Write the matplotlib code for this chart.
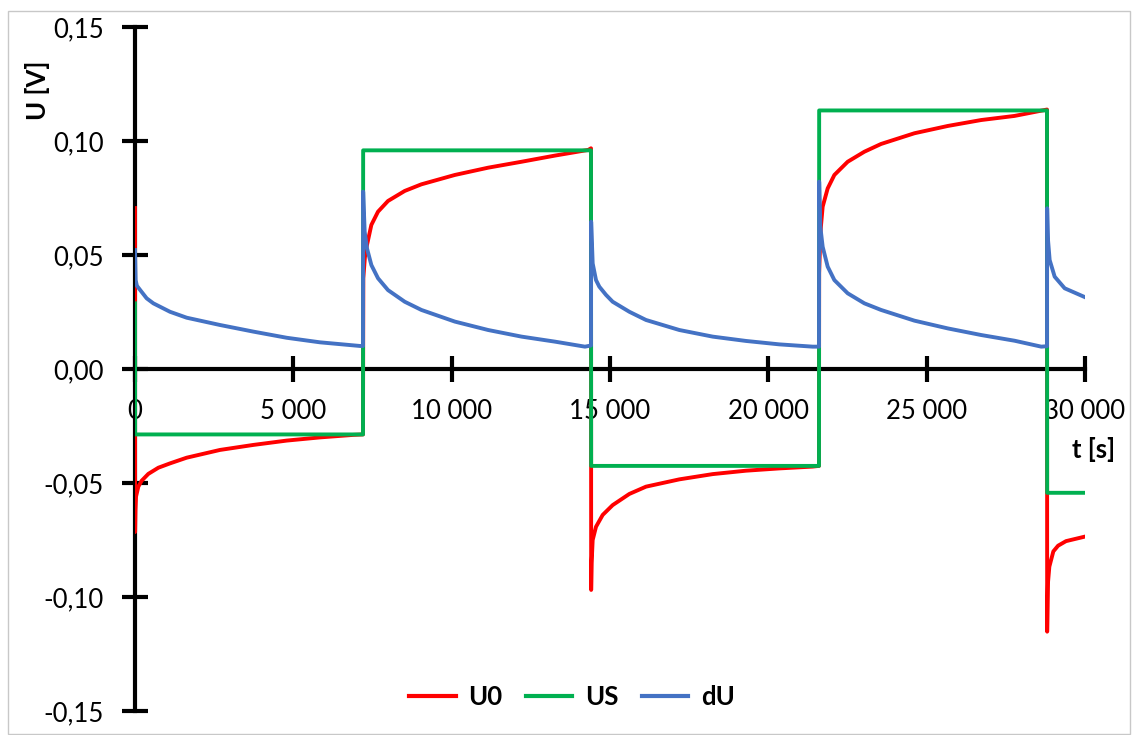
import matplotlib
matplotlib.use("Agg")
import matplotlib.pyplot as plt
import matplotlib.ticker as mticker
from matplotlib.patches import Rectangle

# odczyty z wykresu
t_u0 = [0, 3, 15, 32, 105, 211, 421, 737, 1105, 1632, 2684, 3737, 4790, 5842, 6895, 7200,
        7210, 7260, 7326, 7464, 7674, 7990, 8518, 9044, 10099, 11153, 12207, 13261, 14315, 14400,
        14405, 14420, 14453, 14558, 14769, 15084, 15611, 16137, 17190, 18243, 19296, 20349, 21402, 21600,
        21605, 21640, 21660, 21716, 21874, 22085, 22506, 23033, 23560, 24614, 25668, 26722, 27776, 28800,
        28805, 28830, 28874, 29000, 29150, 29400, 30000]
u0 = [0.0706, -0.0715, -0.062, -0.056, -0.0516, -0.0490, -0.0460, -0.0433, -0.0414, -0.0389, -0.0355, -0.0333, -0.0314, -0.0300, -0.0289, -0.0287,
      0.0398, 0.049, 0.0544, 0.0632, 0.0690, 0.0737, 0.0781, 0.0810, 0.0851, 0.0883, 0.0909, 0.0936, 0.0961, 0.0968,
      -0.0969, -0.085, -0.075, -0.0692, -0.064, -0.0597, -0.0548, -0.0516, -0.0484, -0.0461, -0.0446, -0.0436, -0.0428, -0.0425,
      0.0421, 0.0580, 0.0624, 0.0712, 0.0792, 0.0851, 0.0909, 0.0953, 0.0987, 0.1034, 0.1066, 0.1092, 0.1110, 0.1138,
      -0.1152, -0.0939, -0.0867, -0.0800, -0.0775, -0.0755, -0.0735]

t_us = [0, 3, 7200, 7205, 14400, 14405, 21600, 21605, 28800, 28805, 30000]
us = [0.0288, -0.0287, -0.0287, 0.0959, 0.0959, -0.0425, -0.0425, 0.1134, 0.1134, -0.0543, -0.0543]

t_du = [0, 20, 60, 160, 368, 579, 1105, 1632, 2684, 3737, 4790, 5842, 7105, 7200,
        7205, 7253, 7326, 7464, 7674, 7990, 8518, 9044, 10099, 11153, 12207, 13261, 14209, 14400,
        14405, 14453, 14558, 14663, 14874, 15084, 15611, 16137, 17190, 18243, 19296, 20349, 21402, 21600,
        21605, 21642, 21716, 21874, 22085, 22506, 23033, 23560, 24614, 25668, 26722, 27776, 28620, 28800,
        28805, 28832, 28884, 29042, 29358, 30000]
du = [0.0522, 0.039, 0.0365, 0.0347, 0.031, 0.0288, 0.0251, 0.0225, 0.0193, 0.0164, 0.0137, 0.0117, 0.0101, 0.0101,
      0.0778, 0.0602, 0.0529, 0.0456, 0.0398, 0.0346, 0.0295, 0.0259, 0.0208, 0.0171, 0.0142, 0.0120, 0.0098, 0.0103,
      0.0646, 0.0463, 0.039, 0.0361, 0.0325, 0.0295, 0.0251, 0.0215, 0.0171, 0.0142, 0.0123, 0.0108, 0.0098, 0.0098,
      0.0822, 0.0624, 0.0536, 0.0449, 0.0390, 0.0332, 0.0288, 0.0259, 0.0212, 0.0178, 0.0149, 0.0124, 0.0098, 0.0100,
      0.0705, 0.0566, 0.0478, 0.0405, 0.0354, 0.0315]

plt.rcParams['font.family'] = ['Lato', 'DejaVu Sans']
fs = 18.5

fig = plt.figure(figsize=(11.32, 7.35), dpi=100)
ax = fig.add_axes([135/1132, 1 - 711/735, 950/1132, 684/735])

lw = 2.8
ax.plot(t_u0, u0, color="#FF0000", lw=lw, label="U0", zorder=3, solid_joinstyle="round")
ax.plot(t_us, us, color="#00B050", lw=lw, label="US", zorder=3, solid_joinstyle="round")
ax.plot(t_du, du, color="#4472C4", lw=lw, label="dU", zorder=3, solid_joinstyle="round")

ax.set_xlim(0, 30000)
ax.set_ylim(-0.15, 0.15)
for s in ["top", "right"]:
    ax.spines[s].set_visible(False)
ax.spines["bottom"].set_position(("data", 0))
ax.spines["left"].set_position(("data", 0))
for s in ["bottom", "left"]:
    ax.spines[s].set_linewidth(3)
    ax.spines[s].set_zorder(2)

ax.xaxis.set_major_locator(mticker.MultipleLocator(5000))
ax.yaxis.set_major_locator(mticker.MultipleLocator(0.05))
ax.xaxis.set_major_formatter(mticker.FuncFormatter(lambda v, p: f"{int(round(v)):,}".replace(",", " ")))
ax.yaxis.set_major_formatter(mticker.FuncFormatter(lambda v, p: f"{v:.2f}".replace(".", ",")))
ax.tick_params(axis="both", direction="inout", length=19, width=3, labelsize=fs, colors="black")
ax.tick_params(axis="y", pad=13)
ax.tick_params(axis="x", pad=12)

fig.text(38/1132, 1 - 90/735, "U [V]", rotation=90, ha="center", va="center",
         fontsize=fs, fontweight="bold")
fig.text(1094/1132, 1 - 449/735, "t [s]", ha="center", va="center",
         fontsize=fs, fontweight="bold")

leg = fig.legend(loc="center", bbox_to_anchor=(572/1132, 1 - 697/735), ncol=3, frameon=False,
                 fontsize=fs, handlelength=1.8, handletextpad=0.5, columnspacing=0.9)
for txt in leg.get_texts():
    txt.set_fontweight("bold")
for h in leg.legend_handles:
    h.set_linewidth(3)

fig.patches.append(Rectangle((8/1132, 0.001), 1 - 8/1132 - 0.002, 1 - 11/735 - 0.001,
                             transform=fig.transFigure, fill=False, edgecolor="#c8c8c8", lw=1))

fig.savefig("out.png", dpi=100)
